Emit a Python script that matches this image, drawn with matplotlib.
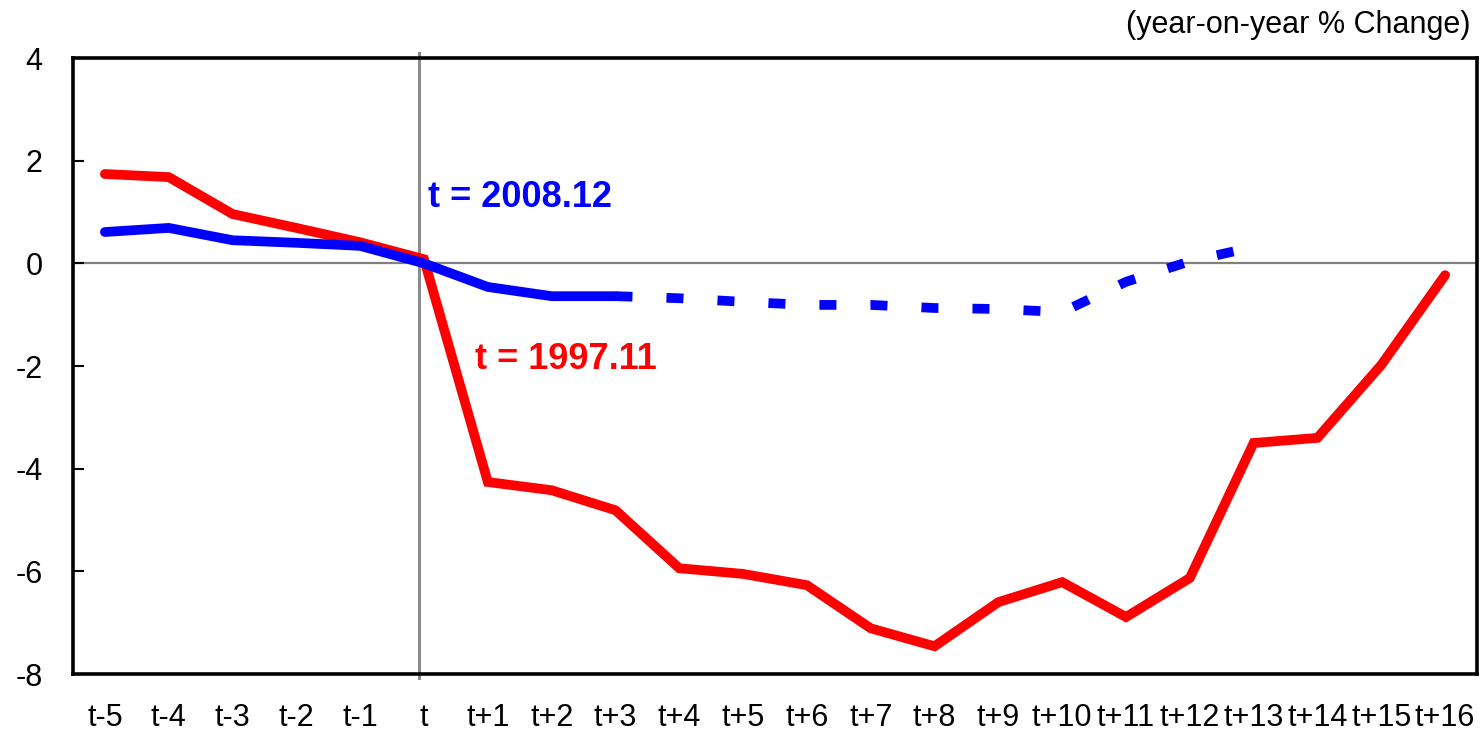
import matplotlib
matplotlib.use("Agg")
import matplotlib.pyplot as plt
import numpy as np

# Categories: months relative to the start of the downturn
periods = ["t-5", "t-4", "t-3", "t-2", "t-1", "t",
           "t+1", "t+2", "t+3", "t+4", "t+5", "t+6", "t+7", "t+8",
           "t+9", "t+10", "t+11", "t+12", "t+13", "t+14", "t+15", "t+16"]

# t = 1997.11 episode (red)
crisis_1997 = [1.74, 1.68, 0.96, 0.69, 0.41, 0.08,
               -4.26, -4.42, -4.81, -5.94, -6.05, -6.27, -7.11, -7.46,
               -6.60, -6.21, -6.89, -6.13, -3.50, -3.40, -1.98, -0.23]

# t = 2008.12 episode (blue): actual up to t+3, projection afterwards
actual_2008 = [0.61, 0.69, 0.45, 0.40, 0.34, 0.00, -0.46, -0.64, -0.64]
projected_2008 = [-0.64, -0.68, -0.75, -0.81, -0.81, -0.87, -0.89,
                  -0.95, -0.36, 0.04, 0.32]

y_ticks = [-8, -6, -4, -2, 0, 2, 4]

plt.rcParams['font.family'] = ['Liberation Sans', 'DejaVu Sans']
plt.rcParams['font.size'] = 22

fig = plt.figure(figsize=(14.84, 7.36), dpi=100)
fig.patch.set_facecolor('white')
ax = fig.add_axes([73 / 1484, 62 / 736, 1404 / 1484, 616 / 736])

x_all = np.arange(len(periods))
x_actual = x_all[:len(actual_2008)]
x_proj = x_all[len(actual_2008) - 1:len(actual_2008) - 1 + len(projected_2008)]

# reference lines: zero and the start month
ax.axhline(0, color='#808080', linewidth=1.6, zorder=1)
ax.axvline(4.92, ymin=-0.006, ymax=1.008, color='#8c8c8c', linewidth=2.2,
           zorder=1, clip_on=False)

lw = 7.0
ax.plot(x_all, crisis_1997, color='#ff0000', linewidth=lw,
        solid_capstyle='round', solid_joinstyle='miter', zorder=3)
ax.plot(x_actual, actual_2008, color='#0000ff', linewidth=lw,
        solid_capstyle='round', solid_joinstyle='miter', zorder=4)
ax.plot(x_proj, projected_2008, color='#0000ff', linewidth=lw,
        dashes=(1.75, 3.5), dash_capstyle='butt', zorder=4)

ax.text(5.06, 1.29, "t = 2008.12", color='#0000ff', fontsize=26,
        fontweight='bold', ha='left', va='center')
ax.text(5.80, -1.88, "t = 1997.11", color='#ff0000', fontsize=26,
        fontweight='bold', ha='left', va='center')

ax.set_xlim(-0.5, len(periods) - 0.5)
ax.set_ylim(-8, 4)
ax.set_xticks(x_all)
ax.set_xticklabels(periods)
ax.set_yticks(y_ticks)
ax.set_yticklabels([str(v) for v in y_ticks])
ax.tick_params(axis='x', length=0, pad=21)
ax.tick_params(axis='y', direction='in', length=8, width=1.5, pad=22)

for spine in ax.spines.values():
    spine.set_linewidth(2.6)
    spine.set_color('black')

fig.text(1470 / 1484, 1 - 25 / 736, "(year-on-year % Change)",
         ha='right', va='center', fontsize=22)

plt.savefig("out.png", dpi=100, facecolor='white')
plt.close()
